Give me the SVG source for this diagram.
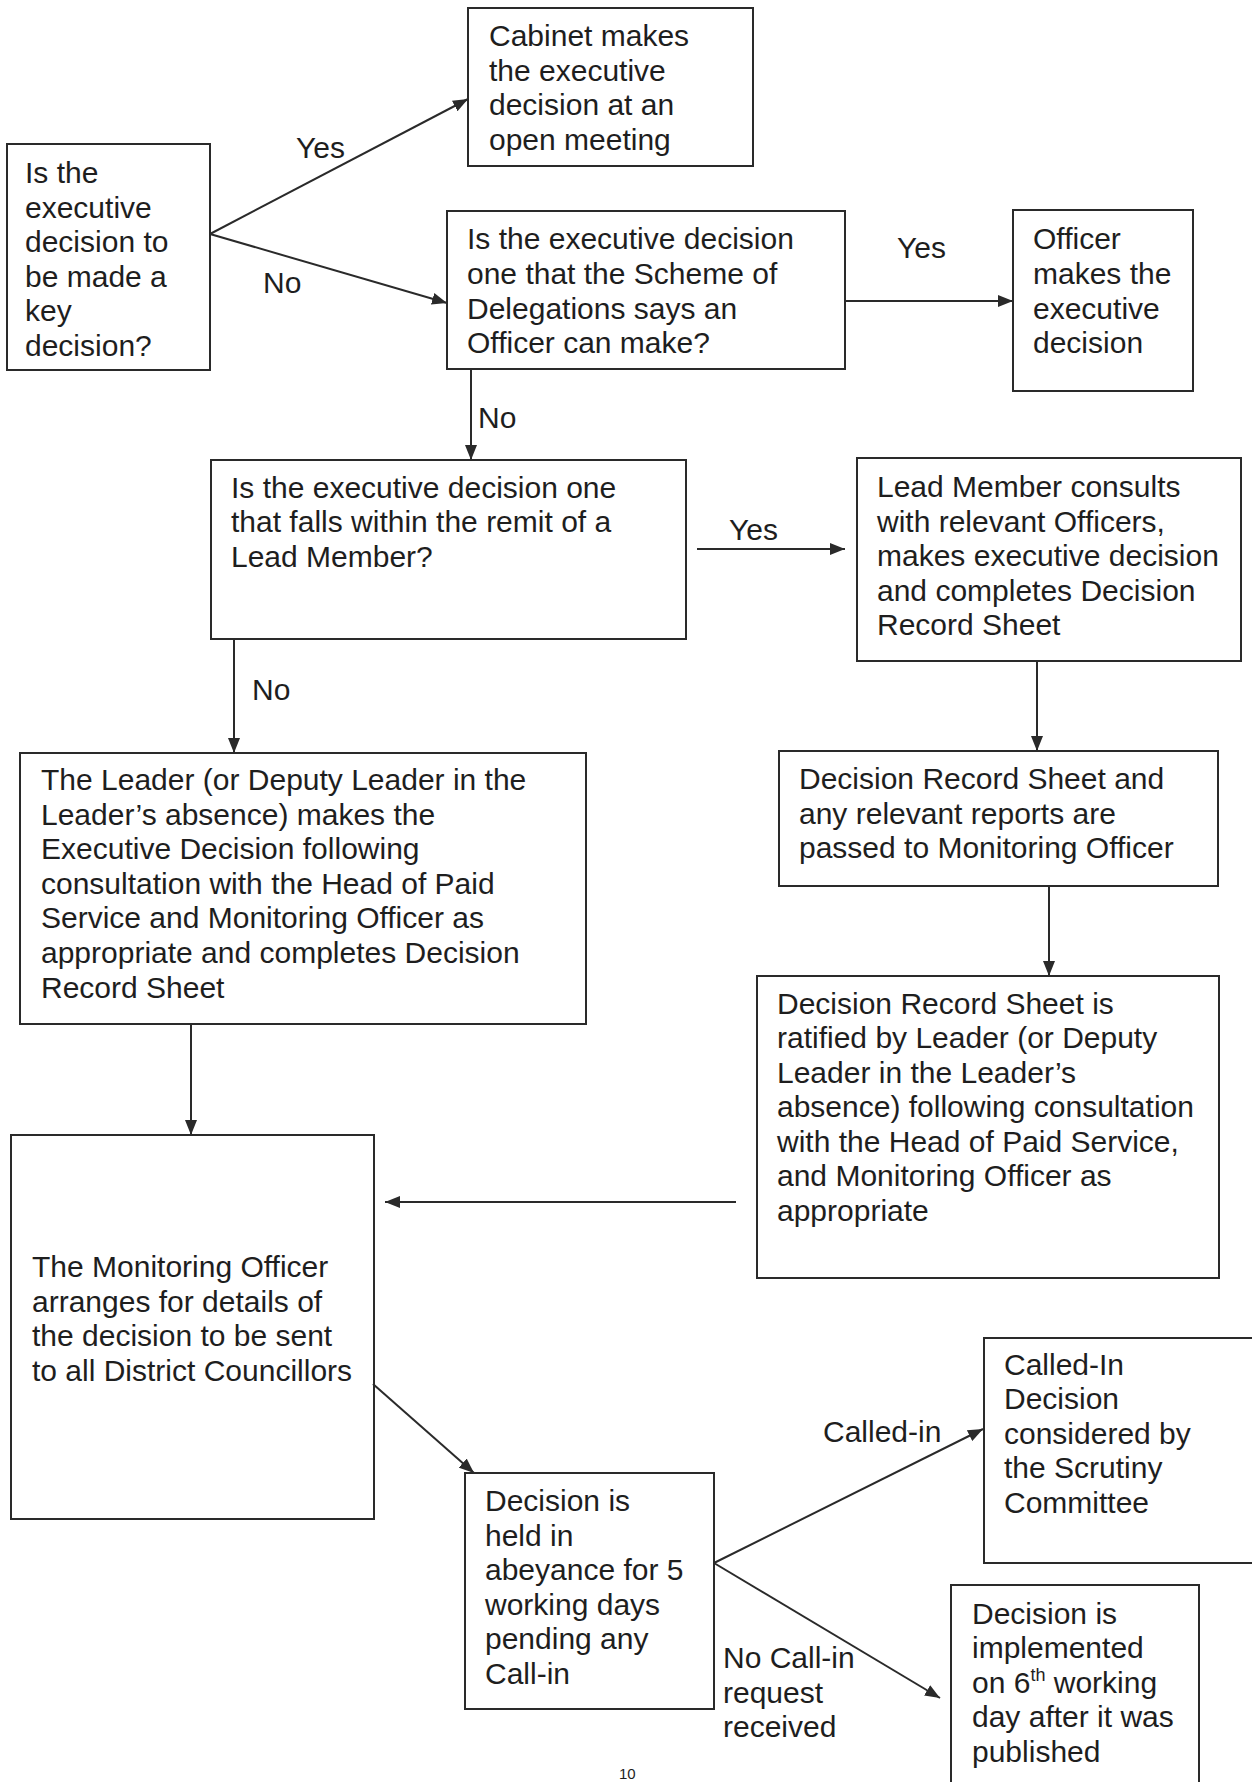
<svg xmlns="http://www.w3.org/2000/svg" width="1252" height="1782" viewBox="0 0 1252 1782">
<style>
.box{fill:none;stroke:#2a2a2a;stroke-width:2}
.t{font-family:"Liberation Sans",Arial,sans-serif;font-size:30px;fill:#1e1e1e}
.c{fill:none;stroke:#2a2a2a;stroke-width:2}
</style>
<defs>
<marker id="ah" markerUnits="userSpaceOnUse" markerWidth="16" markerHeight="12" refX="15" refY="6" orient="auto">
<path d="M0,0 L15,6 L0,12 Z" fill="#2a2a2a"/>
</marker>
</defs>
<rect width="1252" height="1782" fill="#ffffff"/>

<g id="connectors">
<path class="c" d="M210,234 L468,99" marker-end="url(#ah)"/>
<path class="c" d="M210,234 L447,303" marker-end="url(#ah)"/>
<path class="c" d="M845,301 L1013,301" marker-end="url(#ah)"/>
<path class="c" d="M471,369 L471,460" marker-end="url(#ah)"/>
<path class="c" d="M697,549 L845,549" marker-end="url(#ah)"/>
<path class="c" d="M234,639 L234,753" marker-end="url(#ah)"/>
<path class="c" d="M1037,661 L1037,751" marker-end="url(#ah)"/>
<path class="c" d="M1049,886 L1049,976" marker-end="url(#ah)"/>
<path class="c" d="M191,1024 L191,1135" marker-end="url(#ah)"/>
<path class="c" d="M736,1202 L385,1202" marker-end="url(#ah)"/>
<path class="c" d="M373,1384 L474,1473" marker-end="url(#ah)"/>
<path class="c" d="M714,1563 L983,1429" marker-end="url(#ah)"/>
<path class="c" d="M714,1563 L940,1698" marker-end="url(#ah)"/>
<text class="t" x="296" y="158">Yes</text>
<text class="t" x="263" y="293">No</text>
<text class="t" x="897" y="258">Yes</text>
<text class="t" x="478" y="428">No</text>
<text class="t" x="729" y="540">Yes</text>
<text class="t" x="252" y="700">No</text>
<text class="t" x="823" y="1442">Called-in</text>
<text class="t" x="723"><tspan x="723" y="1668">No Call-in</tspan><tspan x="723" y="1703">request</tspan><tspan x="723" y="1737">received</tspan></text>
</g>

<g id="n-key">
<rect class="box" x="7" y="144" width="203" height="226"/>
<text class="t"><tspan x="25" y="183">Is the</tspan><tspan x="25" y="217.5">executive</tspan><tspan x="25" y="252">decision to</tspan><tspan x="25" y="286.5">be made a</tspan><tspan x="25" y="321">key</tspan><tspan x="25" y="355.5">decision?</tspan></text>
</g>

<g id="n-cabinet">
<rect class="box" x="468" y="8" width="285" height="158"/>
<text class="t"><tspan x="489" y="45.5">Cabinet makes</tspan><tspan x="489" y="80.5">the executive</tspan><tspan x="489" y="115">decision at an</tspan><tspan x="489" y="150">open meeting</tspan></text>
</g>

<g id="n-scheme">
<rect class="box" x="447" y="211" width="398" height="158"/>
<text class="t"><tspan x="467" y="249">Is the executive decision</tspan><tspan x="467" y="284">one that the Scheme of</tspan><tspan x="467" y="318.5">Delegations says an</tspan><tspan x="467" y="352.5">Officer can make?</tspan></text>
</g>

<g id="n-officer">
<rect class="box" x="1013" y="210" width="180" height="181"/>
<text class="t"><tspan x="1033" y="249">Officer</tspan><tspan x="1033" y="284">makes the</tspan><tspan x="1033" y="318.5">executive</tspan><tspan x="1033" y="352.5">decision</tspan></text>
</g>

<g id="n-leadq">
<rect class="box" x="211" y="460" width="475" height="179"/>
<text class="t"><tspan x="231" y="497.5">Is the executive decision one</tspan><tspan x="231" y="532">that falls within the remit of a</tspan><tspan x="231" y="566.5">Lead Member?</tspan></text>
</g>

<g id="n-leadmember">
<rect class="box" x="857" y="458" width="384" height="203"/>
<text class="t"><tspan x="877" y="497">Lead Member consults</tspan><tspan x="877" y="531.5">with relevant Officers,</tspan><tspan x="877" y="566">makes executive decision</tspan><tspan x="877" y="600.5">and completes Decision</tspan><tspan x="877" y="635">Record Sheet</tspan></text>
</g>

<g id="n-passed">
<rect class="box" x="779" y="751" width="439" height="135"/>
<text class="t"><tspan x="799" y="789">Decision Record Sheet and</tspan><tspan x="799" y="823.5">any relevant reports are</tspan><tspan x="799" y="858">passed to Monitoring Officer</tspan></text>
</g>

<g id="n-leader">
<rect class="box" x="20" y="753" width="566" height="271"/>
<text class="t"><tspan x="41" y="790">The Leader (or Deputy Leader in the</tspan><tspan x="41" y="824.6">Leader’s absence) makes the</tspan><tspan x="41" y="859.2">Executive Decision following</tspan><tspan x="41" y="893.8">consultation with the Head of Paid</tspan><tspan x="41" y="928.4">Service and Monitoring Officer as</tspan><tspan x="41" y="963">appropriate and completes Decision</tspan><tspan x="41" y="997.6">Record Sheet</tspan></text>
</g>

<g id="n-ratified">
<rect class="box" x="757" y="976" width="462" height="302"/>
<text class="t"><tspan x="777" y="1013.5">Decision Record Sheet is</tspan><tspan x="777" y="1048">ratified by Leader (or Deputy</tspan><tspan x="777" y="1082.6">Leader in the Leader’s</tspan><tspan x="777" y="1117.2">absence) following consultation</tspan><tspan x="777" y="1151.8">with the Head of Paid Service,</tspan><tspan x="777" y="1186.4">and Monitoring Officer as</tspan><tspan x="777" y="1221">appropriate</tspan></text>
</g>

<g id="n-monitoring">
<rect class="box" x="11" y="1135" width="363" height="384"/>
<text class="t"><tspan x="32" y="1277">The Monitoring Officer</tspan><tspan x="32" y="1311.7">arranges for details of</tspan><tspan x="32" y="1346.4">the decision to be sent</tspan><tspan x="32" y="1381">to all District Councillors</tspan></text>
</g>

<g id="n-abeyance">
<rect class="box" x="465" y="1473" width="249" height="236"/>
<text class="t"><tspan x="485" y="1511">Decision is</tspan><tspan x="485" y="1545.6">held in</tspan><tspan x="485" y="1580.2">abeyance for 5</tspan><tspan x="485" y="1614.8">working days</tspan><tspan x="485" y="1649.4">pending any</tspan><tspan x="485" y="1684">Call-in</tspan></text>
</g>

<g id="n-calledin">
<path class="box" d="M1262,1338 L984,1338 L984,1563 L1262,1563"/>
<text class="t"><tspan x="1004" y="1374.5">Called-In</tspan><tspan x="1004" y="1409">Decision</tspan><tspan x="1004" y="1443.8">considered by</tspan><tspan x="1004" y="1478.4">the Scrutiny</tspan><tspan x="1004" y="1513">Committee</tspan></text>
</g>

<g id="n-implemented">
<path class="box" d="M951,1795 L951,1585 L1199,1585 L1199,1795"/>
<text class="t"><tspan x="972" y="1623.5">Decision is</tspan><tspan x="972" y="1658">implemented</tspan><tspan x="972" y="1692.6">on 6</tspan><tspan font-size="18" dy="-12">th</tspan><tspan dy="12"> working</tspan><tspan x="972" y="1727.2">day after it was</tspan><tspan x="972" y="1761.8">published</tspan></text>
</g>

<text x="619" y="1779" style="font-family:'Liberation Sans',Arial,sans-serif;font-size:15px;fill:#1e1e1e">10</text>
</svg>
